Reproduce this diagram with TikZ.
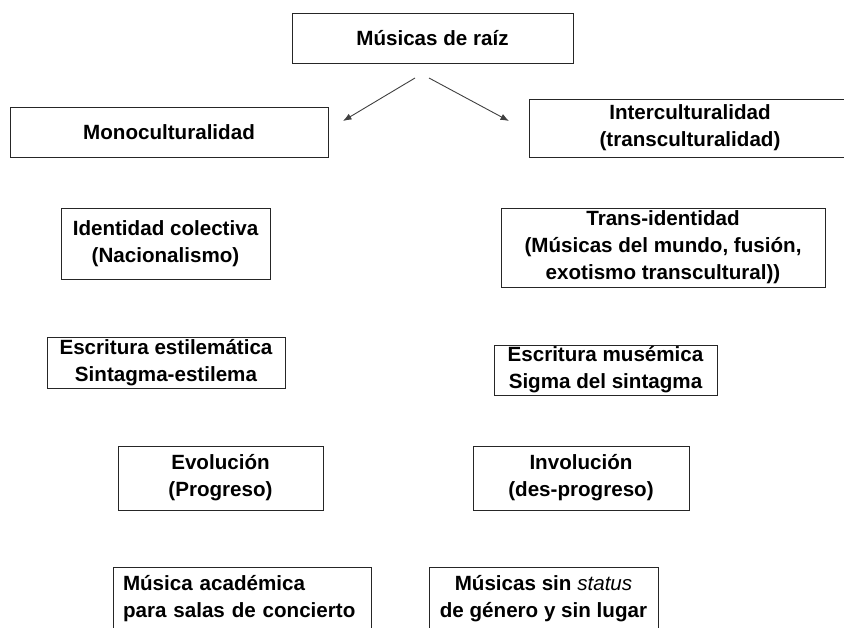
\documentclass[tikz,border=0pt]{standalone}
\usepackage{fontspec}
\setmainfont{Liberation Sans}
\usetikzlibrary{arrows.meta}
\begin{document}
\begin{tikzpicture}[x=1pt,y=-1pt,
  box/.style={draw=black!85, line width=0.8pt, rectangle, inner sep=0pt, align=center,
    font=\fontsize{20.6}{27}\selectfont\bfseries},
  arr/.style={-{Latex[length=8.5pt,width=6.5pt]}, draw=black!75, line width=0.9pt}]
\useasboundingbox (0,0) rectangle (844,628);
\begin{scope}
\clip (0,0) rectangle (844,628);
\node[box, minimum width=281, minimum height=50] (root) at (432.5,38) {Músicas de raíz};
\node[box, minimum width=318, minimum height=50] (mono) at (169,132) {Monoculturalidad};
\node[box, minimum width=322, minimum height=58] (inter) at (690,128) {Interculturalidad\\(transculturalidad)};
\node[box, minimum width=209, minimum height=71] (idcol) at (165.5,243.5) {Identidad colectiva\\(Nacionalismo)};
\node[box, minimum width=324, minimum height=79] (trans) at (663,247.5) {Trans-identidad\\(Músicas del mundo, fusión,\\exotismo transcultural))};
\node[box, minimum width=238, minimum height=51] (estil) at (166,362.5) {Escritura estilemática\\Sintagma-estilema};
\node[box, minimum width=223, minimum height=50] (musem) at (605.5,370) {Escritura musémica\\Sigma del sintagma};
\node[box, minimum width=205, minimum height=64] (evol) at (220.5,478) {Evolución\\(Progreso)};
\node[box, minimum width=216, minimum height=64] (invol) at (581,478) {Involución\\(des-progreso)};
\node[box, minimum width=258, minimum height=64, text width=238, align=left] (acad) at (242,599) {Música académica\\para salas de concierto};
\node[box, minimum width=229, minimum height=64] (sin) at (543.5,599) {Músicas sin {\mdseries\itshape status}\\de género y sin lugar};
\coordinate (aL0) at (415,78);
\coordinate (aL1) at (343,121);
\coordinate (aR0) at (429,78);
\coordinate (aR1) at (509,121);
\draw[arr] (aL0) -- (aL1);
\draw[arr] (aR0) -- (aR1);
\end{scope}
\end{tikzpicture}
\end{document}
